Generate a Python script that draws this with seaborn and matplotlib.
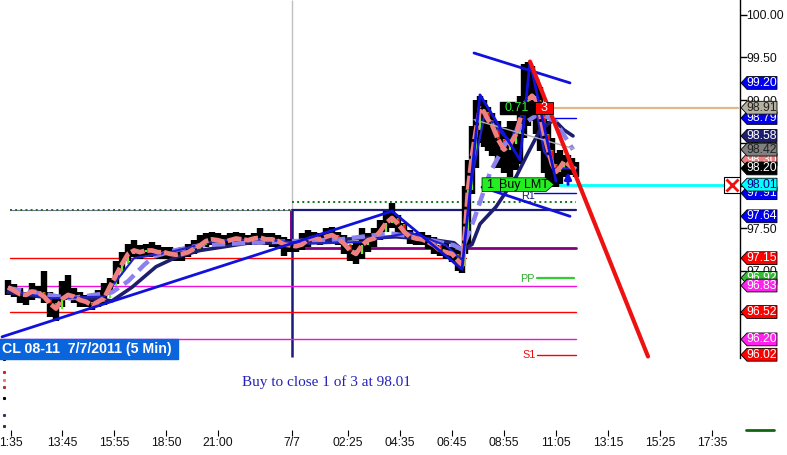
import matplotlib
matplotlib.use('Agg')
import matplotlib.pyplot as plt
import seaborn as sns

sns.set_style('white')
plt.rcParams['font.family'] = ['Liberation Sans', 'DejaVu Sans']

# bar numbers, 5 min bars, 2 px wide on the chart
bars = [-1, 2, 5, 8, 11, 14, 17, 20, 23, 26, 29, 32, 35, 38, 41, 44, 47, 50, 53, 56, 59, 62, 65, 68,
        71, 74, 77, 80, 83, 86, 89, 92, 95, 98, 101, 104, 107, 110, 113, 116, 119, 122, 125, 128,
        131, 134, 137, 140, 143, 146, 149, 152, 155, 158, 161, 164, 167, 170, 173, 176, 179, 182,
        185, 188, 191, 194, 197, 200, 203, 206, 209, 212, 215, 218, 221, 224, 226, 227.5, 229, 231,
        233, 235, 237, 239, 241, 244, 247, 250, 253, 255, 257, 259, 261, 263, 265, 267, 269, 271,
        273, 275, 277, 279, 281, 283]
avg_line = [96.81, 96.77, 96.73, 96.72, 96.76, 96.75, 96.70, 96.62, 96.56, 96.67, 96.72, 96.70, 96.66, 96.64,
            96.60, 96.64, 96.68, 96.82, 96.95, 97.08, 97.20, 97.24, 97.22, 97.24, 97.24, 97.22, 97.22, 97.20,
            97.19, 97.20, 97.22, 97.26, 97.30, 97.35, 97.37, 97.36, 97.34, 97.36, 97.38, 97.37, 97.36, 97.38,
            97.39, 97.37, 97.37, 97.35, 97.31, 97.30, 97.29, 97.31, 97.37, 97.39, 97.37, 97.40, 97.42, 97.38,
            97.32, 97.24, 97.20, 97.30, 97.36, 97.38, 97.46, 97.56, 97.62, 97.55, 97.46, 97.40, 97.38, 97.37,
            97.34, 97.30, 97.24, 97.22, 97.20, 97.12, 97.06, 97.45, 97.95, 98.35, 98.65, 98.90, 98.86, 98.77,
            98.71, 98.54, 98.42, 98.48, 98.60, 98.77, 98.95, 99.00, 99.05, 99.00, 98.85, 98.60, 98.42, 98.25,
            98.16, 98.21, 98.28, 98.25, 98.21, 98.19]
highs = [96.90, 96.85, 96.80, 96.76, 96.86, 96.82, 97.00, 96.75, 96.70, 96.88, 96.95, 96.80, 96.75, 96.72,
         96.68, 96.78, 96.86, 96.92, 97.12, 97.22, 97.32, 97.36, 97.30, 97.32, 97.34, 97.30, 97.28, 97.28,
         97.26, 97.28, 97.32, 97.36, 97.42, 97.44, 97.46, 97.44, 97.42, 97.44, 97.46, 97.44, 97.42, 97.44,
         97.50, 97.44, 97.44, 97.42, 97.40, 97.38, 97.36, 97.44, 97.48, 97.46, 97.45, 97.50, 97.52, 97.46,
         97.42, 97.30, 97.34, 97.50, 97.44, 97.50, 97.60, 97.70, 97.80, 97.66, 97.56, 97.48, 97.44, 97.46,
         97.42, 97.40, 97.30, 97.34, 97.28, 97.25, 97.20, 98.00, 98.30, 98.70, 99.00, 99.05, 99.00, 98.92,
         98.85, 98.75, 98.68, 98.75, 98.75, 99.05, 99.42, 99.45, 99.40, 99.25, 99.15, 98.85, 98.75, 98.55,
         98.38, 98.42, 98.36, 98.36, 98.32, 98.27]
lows = [96.72, 96.70, 96.62, 96.60, 96.66, 96.68, 96.62, 96.46, 96.42, 96.58, 96.66, 96.62, 96.58, 96.58,
        96.54, 96.58, 96.60, 96.74, 96.85, 97.00, 97.12, 97.16, 97.14, 97.16, 97.16, 97.14, 97.14, 97.14,
        97.12, 97.12, 97.16, 97.20, 97.24, 97.28, 97.30, 97.26, 97.28, 97.30, 97.30, 97.30, 97.30, 97.30,
        97.32, 97.30, 97.28, 97.26, 97.18, 97.22, 97.22, 97.24, 97.28, 97.32, 97.30, 97.32, 97.34, 97.30,
        97.20, 97.12, 97.08, 97.14, 97.22, 97.28, 97.36, 97.46, 97.50, 97.40, 97.38, 97.32, 97.30, 97.30,
        97.26, 97.20, 97.18, 97.14, 97.10, 97.00, 96.98, 97.20, 97.30, 97.90, 98.20, 98.50, 98.45, 98.40,
        98.35, 98.20, 98.15, 98.10, 98.18, 98.25, 98.55, 98.70, 98.75, 98.60, 98.40, 98.15, 98.00, 97.98,
        97.98, 98.02, 98.10, 98.12, 98.12, 98.10]

fast_bars = [-1, 20, 47, 62, 80, 104, 125, 150, 176, 200, 218, 226, 231, 237, 241, 250, 257, 263, 267, 273, 283]
fast_line = [96.78, 96.68, 96.70, 97.15, 97.22, 97.36, 97.37, 97.32, 97.34, 97.45, 97.30, 97.12, 98.10, 98.80,
             98.75, 98.50, 98.90, 98.90, 98.40, 98.20, 98.20]
slow_bars = [-1, 15, 45, 51, 61, 73, 83, 95, 120, 140, 165, 193, 210, 222, 226, 231, 235, 243, 253, 259, 265, 272, 277, 281.5]
slow_line = [96.75, 96.70, 96.67, 96.65, 96.81, 97.05, 97.16, 97.24, 97.33, 97.33, 97.37, 97.40, 97.37, 97.33,
             97.25, 97.31, 97.55, 97.75, 98.10, 98.38, 98.65, 98.77, 98.65, 98.58]
dash_bars = [-1, 30, 51, 59, 67, 72, 82, 95, 120, 165, 190, 205, 222, 226, 232, 240, 248, 258, 265, 273, 281.5]
dash_line = [96.80, 96.68, 96.75, 96.88, 97.07, 97.17, 97.24, 97.30, 97.33, 97.37, 97.44, 97.39, 97.30, 97.25,
             97.60, 98.15, 98.50, 98.74, 98.85, 98.74, 98.42]
gray_bars = [232, 282]
gray_line = [98.77, 98.43]

# thick zigzag and channel lines
zig_bars = [-4, 191, 226, 235, 255, 260, 273]
zig_line = [96.23, 97.70, 97.02, 99.06, 98.30, 99.45, 98.05]
top_bars, top_line = [232, 280], [99.55, 99.20]
bot_bars, bot_line = [236, 280], [97.98, 97.64]
red_bars, red_line = [260, 319], [99.45, 96.00]

# session levels: price, first bar, last bar, colour, width
levels = [(97.15, 0, 228, '#ff0000', 1), (96.83, 0, 283, '#ee11dd', 1), (96.52, 0, 283, '#ff0000', 1),
          (96.20, -5, 283, '#ee11dd', 1), (96.02, 263.5, 283, '#ff0000', 1), (97.71, 141, 283, '#1a1a7a', 1.6),
          (97.27, 141, 283, '#800080', 2), (98.79, 262, 283, '#0000ee', 1), (97.91, 262, 283, '#0000ee', 1),
          (96.92, 263.5, 282, '#33cc33', 1.6), (98.91, 272, 364, '#deb887', 1.6), (98.01, 273, 357, '#00ffff', 2)]
old_level = 97.71
dot_level = 97.805

price_ticks = [100.00, 99.50, 99.00, 98.50, 98.00, 97.50, 97.00, 96.50]
time_ticks = [0.5, 26, 52, 78, 104, 141, 169, 195, 221, 247, 273, 299, 325, 351]
time_labels = ['1:35', '13:45', '15:55', '18:50', '21:00', '7/7', '02:25', '04:35', '06:45', '08:55', '11:05',
               '13:15', '15:25', '17:35']

# listed bottom layer first, as the tags overlap on the chart
tag_prices = [99.20, 98.79, 98.91, 98.58, 98.30, 98.42, 98.20, 97.91, 98.01, 97.64, 97.15, 96.92, 96.83, 96.52, 96.20, 96.02]
tag_colors = ['#0000ee', '#0000ee', '#b5b0a0', '#1e1e6e', '#f08080', '#808080', '#000000', '#0000ee', '#00ffff',
              '#0000ee', '#ff0000', '#33bb33', '#ff22ee', '#ff0000', '#ff22ee', '#ff0000']
tag_text = ['white', 'white', '#222222', 'white', 'white', '#222222', 'white', 'white', '#000080', 'white', 'white',
            'white', 'white', 'white', 'white', 'white']

# stray marks of the lower panel scale
scale_marks = [95.97, 95.82, 95.72, 95.64, 95.52, 95.31, 95.19]
scale_colors = ['black', '#cc2222', '#e08080', '#aa3333', 'black', '#333366', '#333333']

fig = plt.figure(figsize=(7.87, 4.55), dpi=100)
ax = fig.add_axes([0, 25 / 455, 739.5 / 787, 430 / 455])
ax.set_xlim(-5, 364.75)
ax.set_ylim(95.14, 100.17)

# candles
ax.vlines(bars, lows, highs, color='black', lw=4.6, zorder=2)
ax.vlines(bars[1:], avg_line[:-1], avg_line[1:], color='#66ee22', lw=1.6, zorder=2.2)
for b, a0, a1 in zip(bars[1:], avg_line[:-1], avg_line[1:]):
    if a1 < a0 - 0.03:
        ax.vlines(b, a1, a0, color='#ee1111', lw=1.8, zorder=2.3)

# horizontal levels
for price, b0, b1, col, lw in levels:
    sns.lineplot(x=[b0, b1], y=[price, price], color=col, lw=lw, ax=ax, zorder=1.5, estimator=None)
sns.lineplot(x=[0, 140.5], y=[old_level, old_level], color='#2a6a2a', lw=1.4, ls=':', ax=ax, zorder=1.6, estimator=None)
sns.lineplot(x=[0, 140.5], y=[old_level, old_level], color='#777799', lw=0.8, ax=ax, zorder=1.5, estimator=None)
sns.lineplot(x=[141, 283], y=[dot_level, dot_level], color='#117711', lw=1.4, ls=':', ax=ax, zorder=1.6, estimator=None)

# session break
ax.vlines(141, old_level, 100.17, color='#c0c0c0', lw=1, zorder=1)
ax.vlines(141, 95.99, old_level, color='#1a1a7a', lw=1.8, zorder=1.4)
ax.vlines(140.5, 97.27, old_level, color='#800080', lw=1.4, zorder=1.45)

# moving averages
sns.lineplot(x=slow_bars, y=slow_line, color='#1e1e6e', lw=2.6, ax=ax, sort=False, estimator=None, zorder=3)
sns.lineplot(x=dash_bars, y=dash_line, color='#8a80ee', lw=3.2, ls=(0, (3, 1.5)), ax=ax, sort=False, estimator=None, zorder=3.1)
sns.lineplot(x=fast_bars, y=fast_line, color='#2222cc', lw=1.6, ax=ax, sort=False, estimator=None, zorder=3.2)
sns.lineplot(x=bars, y=avg_line, color='#f08080', lw=3.4, ls=(0, (3, 0.6)), ax=ax, sort=False, estimator=None, zorder=3.3)
sns.lineplot(x=gray_bars, y=gray_line, color='#b0b0b0', lw=1, ax=ax, estimator=None, zorder=3.4)

# drawn lines
sns.lineplot(x=zig_bars, y=zig_line, color='#1111dd', lw=2, ax=ax, sort=False, estimator=None, zorder=4)
sns.lineplot(x=top_bars, y=top_line, color='#1111dd', lw=2, ax=ax, estimator=None, zorder=4)
sns.lineplot(x=bot_bars, y=bot_line, color='#1111dd', lw=2, ax=ax, estimator=None, zorder=4)
sns.lineplot(x=red_bars, y=red_line, color='#ee1111', lw=3, ax=ax, estimator=None, zorder=4.1)
ax.annotate('', xy=(279, 98.19), xytext=(279, 97.98), zorder=4.2,
            arrowprops=dict(arrowstyle='-|>', color='#1111dd', lw=2))

# level names
ax.text(255, 96.91, 'PP', color='#33aa33', fontsize=7.8, ha='left', va='center', zorder=5)
ax.text(255.5, 97.88, 'R1', color='#1a1a7a', fontsize=7.8, ha='left', va='center', zorder=5)
ax.text(256, 96.02, 'S1', color='#ee1111', fontsize=7.8, ha='left', va='center', zorder=5)

# order boxes
ax.fill_between([245, 262.5], 98.84, 98.98, color='black', zorder=6)
ax.fill_between([262.5, 271.5], 98.84, 98.98, color='#ff0000', ec='black', lw=0.6, zorder=6)
ax.text(253.5, 98.91, '0.71', color='#33ee33', fontsize=9, ha='center', va='center', zorder=7)
ax.text(267, 98.91, '3', color='white', fontsize=9, ha='center', va='center', zorder=7)
ax.fill([236, 268, 272, 268, 236], [97.93, 97.93, 98.01, 98.09, 98.09], fc='#22ee22', ec='black', lw=0.5, zorder=6)
ax.vlines(245, 97.93, 98.09, color='black', lw=0.6, zorder=7)
ax.text(240, 98.01, '1', color='black', fontsize=9, ha='center', va='center', zorder=7)
ax.text(257, 98.01, 'Buy LMT', color='black', fontsize=9, ha='center', va='center', zorder=7)
ax.plot([361], [98.01], marker='s', ms=12, mfc='white', mec='black', mew=0.8, zorder=6)
ax.plot([361], [98.01], marker='x', ms=8, mec='#ee1111', mew=2, zorder=7)

# caption and title
ax.fill_between([-5, 84], 95.97, 96.21, color='#0a64dc', zorder=8)
ax.text(-4, 96.09, 'CL 08-11  7/7/2011 (5 Min)', color='white', fontsize=10.2, fontweight='bold',
        ha='left', va='center', zorder=9)
ax.text(158, 95.70, 'Buy to close 1 of 3 at 98.01', color='#2222bb', fontsize=11, family='Liberation Serif',
        ha='center', va='center')

# price axis
sns.despine(ax=ax, left=True, top=True, right=False, bottom=True)
ax.spines['right'].set_color('black')
ax.spines['right'].set_linewidth(1)
ax.spines['right'].set_bounds(95.98, 100.17)
ax.yaxis.tick_right()
ax.set_yticks(price_ticks, [f'{t:.2f}' for t in price_ticks], fontsize=8.8, color='#111111')
ax.tick_params(axis='y', length=5, width=1, color='black', pad=0, right=True)
ax.set_xticks(time_ticks, time_labels, fontsize=8.8, color='#111111')
ax.tick_params(axis='x', length=4, width=0.8, color='black', pad=1.2, bottom=True)
ax.grid(False)

# price tags beside the axis
for i, (price, col, tcol) in enumerate(zip(tag_prices, tag_colors, tag_text)):
    x0, x1, x2 = 365.5, 368.5, 383.5
    h = 0.075
    ax.fill([x0, x1, x2, x2, x1], [price, price + h, price + h, price - h, price - h],
            fc=col, ec='black', lw=0.6, clip_on=False, zorder=10 + i * 0.1)
    ax.text((x1 + x2) / 2, price, f'{price:.2f}', color=tcol, fontsize=8.8, ha='center', va='center',
            clip_on=False, zorder=10.05 + i * 0.1)

# small marks at the edges
for y, col in zip(scale_marks, scale_colors):
    ax.plot([-3], [y], marker='s', ms=1.2, color=col, clip_on=False, zorder=2)
sns.lineplot(x=[368, 382], y=[95.14, 95.14], color='#116611', lw=2, ax=ax, estimator=None, clip_on=False)

ax.set_xlabel('')
ax.set_ylabel('')
ax.set_xlim(-5, 364.75)
fig.savefig('out.png', dpi=100)
